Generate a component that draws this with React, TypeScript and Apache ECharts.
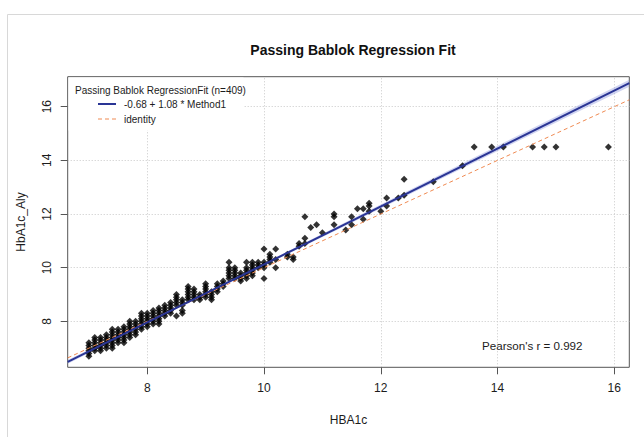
import React, { useEffect, useRef } from "react";
import * as echarts from "echarts";

// Method comparison: HBA1c (reference) vs HbA1c_Aly, Passing-Bablok fit
const xLevels = [
  7.0, 7.1, 7.2, 7.3, 7.4, 7.5, 7.6, 7.7, 7.8, 7.9,
  8.0, 8.1, 8.2, 8.3, 8.4, 8.5, 8.6, 8.7, 8.8, 8.9,
  9.0, 9.1, 9.2, 9.3, 9.4, 9.5, 9.6, 9.7, 9.8, 9.9,
  10.0, 10.1, 10.2, 10.4, 10.5, 10.6, 10.7, 10.8, 10.9, 11.0,
  11.2, 11.4, 11.5, 11.6, 11.7, 11.8, 12.0, 12.1, 12.3, 12.4,
  12.9, 13.4, 13.6, 13.9, 14.1, 14.6, 14.8, 15.0, 15.9,
];
const yByLevel = [
  [6.7, 6.8, 6.9, 7.0, 7.1, 7.2],
  [6.9, 7.0, 7.1, 7.2, 7.3, 7.4],
  [6.9, 7.0, 7.1, 7.2, 7.3, 7.4],
  [7.0, 7.1, 7.2, 7.3, 7.4, 7.5],
  [7.0, 7.1, 7.2, 7.3, 7.4, 7.5, 7.6, 7.7],
  [7.2, 7.3, 7.4, 7.5, 7.6, 7.7],
  [7.2, 7.3, 7.4, 7.5, 7.6, 7.7, 7.8],
  [7.4, 7.5, 7.6, 7.7, 7.8, 7.9, 8.0],
  [7.5, 7.6, 7.7, 7.8, 7.9, 8.0],
  [7.7, 7.8, 7.9, 8.0, 8.1, 8.2, 8.3],
  [7.8, 7.9, 8.0, 8.1, 8.2, 8.3],
  [7.9, 8.0, 8.1, 8.2, 8.3, 8.4],
  [7.9, 8.0, 8.1, 8.2, 8.3, 8.4, 8.5],
  [8.2, 8.3, 8.4, 8.5, 8.6],
  [8.3, 8.4, 8.5, 8.6, 8.7],
  [8.2, 8.6, 8.7, 8.8, 8.9, 9.0],
  [8.3, 8.4, 8.6, 8.7, 8.8],
  [8.8, 8.9, 9.0, 9.1, 9.2, 9.3],
  [8.8, 8.9, 9.0, 9.1, 9.2],
  [8.8, 8.9, 9.0],
  [8.9, 9.0, 9.1, 9.2, 9.3, 9.4],
  [8.8, 8.9, 9.0, 9.1],
  [9.1, 9.2, 9.3, 9.4],
  [9.3, 9.4, 9.5],
  [9.6, 9.7, 9.8, 9.9, 10.0, 10.2],
  [9.6, 9.7, 9.8, 9.9, 10.0],
  [9.5, 9.6, 9.7, 9.8],
  [9.6, 9.7, 9.8, 9.9, 10.0, 10.2],
  [9.7, 9.8, 9.9, 10.0, 10.1, 10.2],
  [10.0, 10.1, 10.2],
  [9.6, 10.0, 10.1, 10.2, 10.7],
  [10.2, 10.3, 10.4, 10.5],
  [10.0, 10.3, 10.7],
  [10.4, 10.5],
  [10.3, 10.4],
  [10.8, 10.9],
  [10.9, 11.1, 11.9],
  [11.5],
  [11.6],
  [11.3],
  [11.6, 11.9, 12.0],
  [11.4],
  [11.6, 11.9],
  [12.2],
  [11.8, 12.2],
  [12.1, 12.3, 12.4],
  [12.1],
  [12.3, 12.6],
  [12.6],
  [12.7, 13.3],
  [13.2],
  [13.8],
  [14.5],
  [14.5],
  [14.5],
  [14.5],
  [14.5],
  [14.5],
  [14.5],
];

// Fitted line and its confidence band half-width along x
const fitIntercept = -0.68;
const fitSlope = 1.08;
const bandX = [6.637, 8.8, 16.257];
const bandHalf = [0.07, 0.03, 0.13];

const xTicks = [8, 10, 12, 14, 16];
const yTicks = [8, 10, 12, 14, 16];
const xMin = 6.637;
const xMax = 16.257;
const yMin = 6.286;
const yMax = 17.118;

const FONT = "'Liberation Sans', Arial, sans-serif";
const TEXT = "#1c1c1c";
const FIT_COLOR = "#2a3595";
const IDENTITY_COLOR = "#ef8a52";

export default function App() {
  const ref = useRef<HTMLDivElement>(null);

  useEffect(() => {
    if (!ref.current) return;
    const chart = echarts.init(ref.current, null, { renderer: "svg" });

    const points: number[][] = [];
    xLevels.forEach((x, i) => yByLevel[i].forEach((y) => points.push([x, y])));

    const fit = (x: number) => fitIntercept + fitSlope * x;
    const fitLine = [
      [xMin, fit(xMin)],
      [xMax, fit(xMax)],
    ];
    const identityLine = [
      [xMin, xMin],
      [xMax, xMax],
    ];

    const gridLines = [
      ...xTicks.map((v) => ({ xAxis: v })),
      ...yTicks.map((v) => ({ yAxis: v })),
    ];

    chart.setOption({
      animation: false,
      backgroundColor: "#fff",
      title: {
        text: "Passing Bablok Regression Fit",
        left: 348,
        top: 38,
        textAlign: "center",
        textStyle: { fontFamily: FONT, fontSize: 14, fontWeight: "bold", color: "#111" },
      },
      grid: {
        left: 67.7,
        top: 76.7,
        width: 561.6,
        height: 290.6,
        show: true,
        borderColor: "#555",
        borderWidth: 1,
        backgroundColor: "transparent",
      },
      xAxis: {
        type: "value",
        min: xMin,
        max: xMax,
        name: "HBA1c",
        nameLocation: "middle",
        nameGap: 47,
        nameTextStyle: { fontFamily: FONT, fontSize: 12, color: TEXT },
        axisLine: { show: false },
        axisTick: {
          show: true,
          customValues: xTicks,
          length: 7,
          lineStyle: { color: "#555" },
        },
        axisLabel: {
          customValues: xTicks,
          margin: 15,
          fontFamily: FONT,
          fontSize: 12,
          color: TEXT,
        },
        splitLine: { show: false },
      },
      yAxis: {
        type: "value",
        min: yMin,
        max: yMax,
        name: "HbA1c_Aly",
        nameLocation: "middle",
        nameGap: 41,
        nameTextStyle: { fontFamily: FONT, fontSize: 12, color: TEXT },
        axisLine: { show: false },
        axisTick: {
          show: true,
          customValues: yTicks,
          length: 7,
          lineStyle: { color: "#555" },
        },
        axisLabel: {
          customValues: yTicks,
          rotate: 90,
          margin: 15,
          fontFamily: FONT,
          fontSize: 12,
          color: TEXT,
        },
        splitLine: { show: false },
      },
      series: [
        {
          type: "custom",
          name: "band",
          silent: true,
          clip: true,
          z: 1,
          data: [[bandX[0], fit(bandX[0])]],
          renderItem: (_params: any, api: any) => {
            const upper = bandX.map((x, i) => api.coord([x, fit(x) + bandHalf[i]]));
            const lower = bandX
              .map((x, i) => api.coord([x, fit(x) - bandHalf[i]]))
              .reverse();
            return {
              type: "polygon",
              shape: { points: [...upper, ...lower] },
              style: { fill: "rgba(150,160,225,0.45)" },
            };
          },
        },
        {
          type: "scatter",
          name: "samples",
          data: points,
          symbol: "diamond",
          symbolSize: 7,
          itemStyle: { color: "#000" },
          z: 3,
          markLine: {
            silent: true,
            symbol: ["none", "none"],
            label: { show: false },
            lineStyle: { color: "#c8c8c8", type: [1, 2], width: 1 },
            emphasis: { disabled: true },
            data: gridLines,
            z: 0,
          },
        },
        {
          type: "line",
          name: "identity",
          data: identityLine,
          symbol: "none",
          z: 4,
          lineStyle: { color: IDENTITY_COLOR, width: 1, type: [4, 3] },
        },
        {
          type: "line",
          name: "fit",
          data: fitLine,
          symbol: "none",
          z: 5,
          lineStyle: { color: FIT_COLOR, width: 2 },
        },
      ],
      graphic: [
        {
          type: "rect",
          z: -1,
          silent: true,
          shape: { x: 7.5, y: 14.5, width: 700, height: 500 },
          style: { fill: "none", stroke: "#d8d8d8", lineWidth: 1 },
        },
        {
          type: "rect",
          z: 10,
          silent: true,
          shape: { x: 68.5, y: 77.5, width: 175, height: 53 },
          style: { fill: "#fff" },
        },
        {
          type: "text",
          z: 11,
          x: 75,
          y: 90,
          style: {
            text: "Passing Bablok RegressionFit (n=409)",
            fontFamily: FONT,
            fontSize: 10,
            fill: TEXT,
            verticalAlign: "middle",
          },
        },
        {
          type: "line",
          z: 11,
          shape: { x1: 98, y1: 104, x2: 116, y2: 104 },
          style: { stroke: FIT_COLOR, lineWidth: 2 },
        },
        {
          type: "text",
          z: 11,
          x: 124,
          y: 104,
          style: {
            text: "-0.68 + 1.08 * Method1",
            fontFamily: FONT,
            fontSize: 10,
            fill: TEXT,
            verticalAlign: "middle",
          },
        },
        {
          type: "line",
          z: 11,
          shape: { x1: 98, y1: 119, x2: 116, y2: 119 },
          style: { stroke: IDENTITY_COLOR, lineWidth: 1, lineDash: [4, 3] },
        },
        {
          type: "text",
          z: 11,
          x: 124,
          y: 119,
          style: {
            text: "identity",
            fontFamily: FONT,
            fontSize: 10,
            fill: TEXT,
            verticalAlign: "middle",
          },
        },
        {
          type: "text",
          z: 11,
          x: 482,
          y: 345,
          style: {
            text: "Pearson's r = 0.992",
            fontFamily: FONT,
            fontSize: 11.6,
            fill: TEXT,
            verticalAlign: "middle",
          },
        },
      ],
    });

    return () => chart.dispose();
  }, []);

  return (
    <div
      ref={ref}
      style={{ position: "fixed", left: 0, top: 0, width: 644, height: 437 }}
    />
  );
}
